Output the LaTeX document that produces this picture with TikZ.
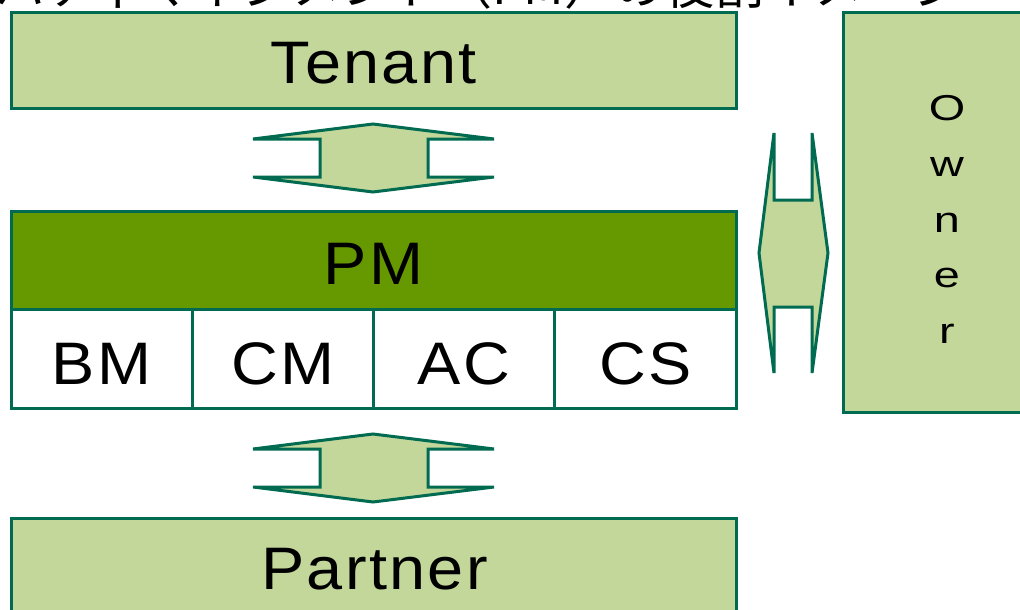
\documentclass[tikz,border=0pt]{standalone}
\usepackage{fontspec}
\newfontfamily\lbl[LetterSpace=4,FakeStretch=1.08]{Liberation Sans}
\newfontfamily\lblwide[FakeStretch=1.3]{Liberation Sans}
\newfontfamily\jp{Noto Sans CJK JP}
\definecolor{leaf}{HTML}{C3D79B}
\definecolor{olive}{HTML}{669900}
\definecolor{edge}{HTML}{006B50}
\tikzset{
  box/.style={draw=edge, line width=3pt, fill=leaf, inner sep=0pt, outer sep=0pt},
  cell/.style={draw=edge, line width=3pt, fill=white, inner sep=0pt, outer sep=0pt,
    minimum width=181.25pt, minimum height=99pt},
  blockarrow/.style={draw=edge, line width=3pt, fill=leaf, line join=miter},
  big/.style={font=\lbl\fontsize{60}{62}\selectfont, anchor=base, inner sep=0pt},
  small/.style={font=\lblwide\fontsize{36}{40}\selectfont, anchor=base, inner sep=0pt},
}
\begin{document}
\begin{tikzpicture}[x=1pt,y=-1pt]
\useasboundingbox (0,0) rectangle (1020,610);
\clip (0,0) rectangle (1020,610);

% heading, mostly above the page
\node[font=\jp\fontsize{50}{50}\selectfont, anchor=base west, inner sep=0pt] (title)
  at (-105,5) {プロパティマネジメント（PM）の役割イメージ};

% tenant
\node[box, anchor=north west, minimum width=725pt, minimum height=95pt] (tenant) at (11,13) {};
\node[big] (tenantlbl) at (373.5,84) {Tenant};

% owner
\node[box, anchor=north west, minimum width=200pt, minimum height=399pt] (owner) at (843,13) {};
\foreach \ch [count=\i from 0] in {O,w,n,e,r}
  \node[small] (owner\i) at (947,121+55.5*\i) {\ch};

% property management
\node[box, fill=olive, anchor=north west, minimum width=725pt, minimum height=98pt] (pm) at (11,211) {};
\node[big] (pmlbl) at (373.5,284) {PM};

% its four functions
\foreach \name [count=\i from 0] in {BM,CM,AC,CS} {
  \node[cell, anchor=north west] (cell\i) at (11+181.25*\i,309) {};
  \node[big] (cell\i lbl) at (101.6+181.25*\i,384) {\name};
}

% partner
\node[box, anchor=north west, minimum width=725pt, minimum height=130pt] (partner) at (11,518) {};
\node[big] (partnerlbl) at (374.5,589) {Partner};

% double block arrows
\draw[blockarrow] (373,124) -- (494,139) -- (428,139) -- (428,177) -- (494,177)
  -- (373,192) -- (253,177) -- (320,177) -- (320,139) -- (253,139) -- cycle;
\draw[blockarrow] (373,434) -- (494,449) -- (428,449) -- (428,487) -- (494,487)
  -- (373,502) -- (253,487) -- (320,487) -- (320,449) -- (253,449) -- cycle;
\draw[blockarrow] (774,133) -- (774,200) -- (812,200) -- (812,133) -- (828,253)
  -- (812,373) -- (812,307) -- (774,307) -- (774,373) -- (759,253) -- cycle;
\end{tikzpicture}
\end{document}
